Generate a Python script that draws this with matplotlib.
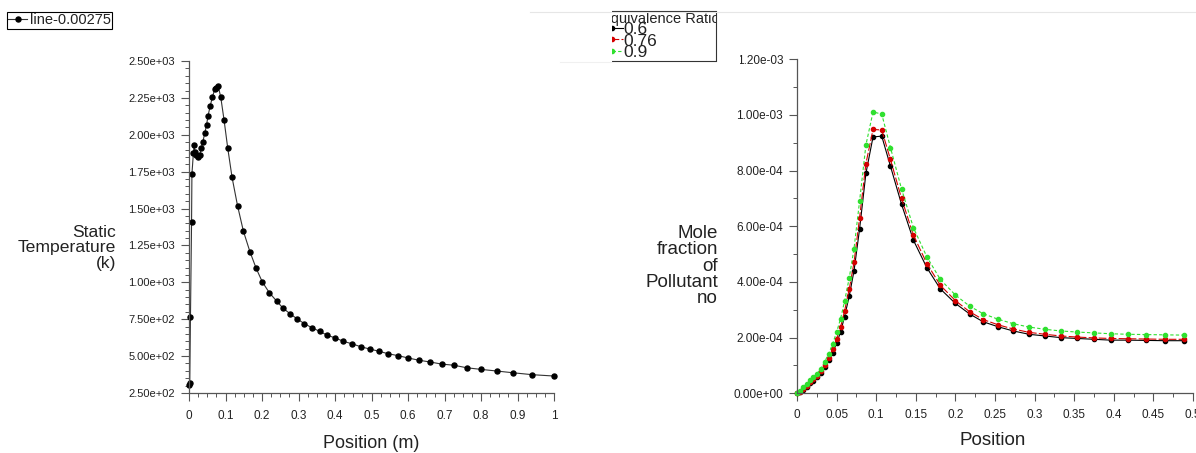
import numpy as np
import matplotlib
matplotlib.use('Agg')
import matplotlib.pyplot as plt
import matplotlib.ticker as mticker
from matplotlib.patches import Rectangle
from matplotlib.lines import Line2D

plt.rcParams['font.family'] = ['Liberation Sans', 'DejaVu Sans']

### data: static temperature along line-0.00275
temp_pos = [0.0, 0.002, 0.004, 0.007, 0.008, 0.012, 0.014, 0.016, 0.020, 0.025,
            0.029, 0.034, 0.038, 0.043, 0.048, 0.052, 0.058, 0.064, 0.0705, 0.075,
            0.080, 0.087, 0.096, 0.106, 0.118, 0.133, 0.149, 0.167, 0.184, 0.201,
            0.220, 0.240, 0.258, 0.278, 0.297, 0.316, 0.337, 0.358, 0.379, 0.401,
            0.423, 0.446, 0.470, 0.495, 0.520, 0.546, 0.573, 0.601, 0.630, 0.661,
            0.692, 0.726, 0.761, 0.800, 0.843, 0.888, 0.941, 1.0]
temp_val = [304, 320, 763, 1406, 1734, 1874, 1928, 1880, 1862, 1851,
            1862, 1912, 1953, 2009, 2065, 2127, 2194, 2255, 2308, 2319,
            2330, 2255, 2101, 1912, 1711, 1519, 1347, 1207, 1095, 1002,
            930, 873, 824, 785, 751, 720, 692, 668, 641, 623,
            600, 584, 564, 548, 533, 516, 503, 487, 472, 460,
            446, 438, 421, 410, 399, 387, 374, 365]

### data: NO mole fraction for three equivalence ratios
no_pos = [0.0, 0.004, 0.008, 0.012, 0.016, 0.020, 0.025, 0.030, 0.035, 0.040,
          0.045, 0.050, 0.055, 0.060, 0.066, 0.072, 0.079, 0.087, 0.096, 0.107,
          0.118, 0.132, 0.147, 0.164, 0.181, 0.200, 0.218, 0.235, 0.254, 0.273,
          0.293, 0.313, 0.333, 0.354, 0.375, 0.396, 0.418, 0.441, 0.465, 0.489]
no_06 = [0.0, 0.5e-5, 1.2e-5, 2.4e-5, 3.6e-5, 4.5e-5, 5.7e-5, 7.4e-5, 9.5e-5, 1.18e-4,
         1.45e-4, 1.80e-4, 2.20e-4, 2.75e-4, 3.50e-4, 4.40e-4, 5.90e-4, 7.90e-4, 9.21e-4, 9.24e-4,
         8.16e-4, 6.79e-4, 5.50e-4, 4.51e-4, 3.75e-4, 3.23e-4, 2.85e-4, 2.57e-4, 2.39e-4, 2.24e-4,
         2.12e-4, 2.06e-4, 2.00e-4, 1.97e-4, 1.94e-4, 1.91e-4, 1.91e-4, 1.90e-4, 1.89e-4, 1.89e-4]
no_076 = [0.0, 0.6e-5, 1.5e-5, 2.8e-5, 4.0e-5, 5.0e-5, 6.2e-5, 8.0e-5, 1.02e-4, 1.28e-4,
          1.58e-4, 1.96e-4, 2.38e-4, 2.95e-4, 3.75e-4, 4.70e-4, 6.30e-4, 8.25e-4, 9.48e-4, 9.46e-4,
          8.40e-4, 7.00e-4, 5.68e-4, 4.66e-4, 3.88e-4, 3.33e-4, 2.93e-4, 2.65e-4, 2.46e-4, 2.31e-4,
          2.19e-4, 2.12e-4, 2.06e-4, 2.02e-4, 1.99e-4, 1.97e-4, 1.96e-4, 1.95e-4, 1.94e-4, 1.94e-4]
no_09 = [0.0, 1.0e-5, 2.2e-5, 3.5e-5, 4.8e-5, 5.8e-5, 7.0e-5, 8.8e-5, 1.14e-4, 1.42e-4,
         1.78e-4, 2.20e-4, 2.68e-4, 3.30e-4, 4.15e-4, 5.20e-4, 6.90e-4, 8.92e-4, 1.011e-3, 1.003e-3,
         8.83e-4, 7.34e-4, 5.95e-4, 4.90e-4, 4.09e-4, 3.53e-4, 3.13e-4, 2.86e-4, 2.66e-4, 2.50e-4,
         2.38e-4, 2.30e-4, 2.24e-4, 2.20e-4, 2.17e-4, 2.14e-4, 2.12e-4, 2.11e-4, 2.10e-4, 2.09e-4]
ratio_labels = ['0.6', '0.76', '0.9']


### figure and axes in pixel layout
W, H = 1196, 453
fig = plt.figure(figsize=(W/100, H/100), dpi=100)
ax1 = fig.add_axes([189/W, 1-393/H, (554-189)/W, (393-61)/H])
ax2 = fig.add_axes([797/W, 1-393.3/H, (1193-797)/W, (393.3-59.3)/H])

txt = '#222222'
spine_col = '#555555'

for ax in (ax1, ax2):
    for s in ('top', 'right'):
        ax.spines[s].set_visible(False)
    for s in ('left', 'bottom'):
        ax.spines[s].set_color(spine_col)
        ax.spines[s].set_linewidth(0.9)
    ax.tick_params(which='major', direction='out', length=6, width=0.8, color=spine_col,
                   labelcolor=txt)
    ax.tick_params(which='minor', direction='out', length=3, width=0.7, color=spine_col)


### left: static temperature
ax1.plot(temp_pos, temp_val, color='#333333', lw=0.8, marker='o', ms=3.6,
         mfc='black', mec='black', label='line-0.00275', clip_on=False)
ax1.set_xlim(0, 1)
ax1.set_ylim(250, 2500)
ax1.xaxis.set_major_locator(mticker.MultipleLocator(0.1))
ax1.xaxis.set_minor_locator(mticker.AutoMinorLocator(4))
ax1.yaxis.set_major_locator(mticker.MultipleLocator(250))
ax1.yaxis.set_minor_locator(mticker.AutoMinorLocator(5))
ax1.xaxis.set_major_formatter(mticker.FormatStrFormatter('%g'))
ax1.yaxis.set_major_formatter(mticker.FormatStrFormatter('%.2e'))
ax1.tick_params(axis='x', labelsize=8.5, pad=6)
ax1.tick_params(axis='y', labelsize=8, pad=4)
ax1.set_xlabel('Position (m)', fontsize=13, color=txt, va='center')
ax1.xaxis.set_label_coords(0.498, -0.152)
ax1.set_ylabel('Static\nTemperature\n(k)', fontsize=12.6, color=txt, rotation=0,
               ha='right', va='center', multialignment='right', linespacing=1.05)
ax1.yaxis.set_label_coords(-0.2, 0.437)

leg1 = fig.legend(handles=ax1.get_lines(), loc='upper left', bbox_to_anchor=(7/W, 1-12/H),
                  fontsize=10.5, handlelength=1.3, handletextpad=0.15, borderpad=0.1,
                  borderaxespad=0, fancybox=False, framealpha=1, edgecolor='black',
                  labelcolor=txt)
leg1.get_frame().set_linewidth(0.8)


### right: NO mole fraction
l06, = ax2.plot(no_pos, no_06, color='black', lw=0.8, marker='o', ms=3, ls='-', clip_on=False)
l076, = ax2.plot(no_pos, no_076, color='#d40000', lw=0.8, marker='o', ms=3, ls=(0, (7, 2)), clip_on=False)
l09, = ax2.plot(no_pos, no_09, color='#2fe02f', lw=0.8, marker='o', ms=3, ls=(0, (3, 2)), clip_on=False)
ax2.set_xlim(0, 0.5)
ax2.set_ylim(0, 1.2e-3)
ax2.xaxis.set_major_locator(mticker.MultipleLocator(0.05))
ax2.xaxis.set_minor_locator(mticker.AutoMinorLocator(2))
ax2.yaxis.set_major_locator(mticker.MultipleLocator(2e-4))
ax2.yaxis.set_minor_locator(mticker.AutoMinorLocator(2))
ax2.xaxis.set_major_formatter(mticker.FormatStrFormatter('%g'))
ax2.yaxis.set_major_formatter(mticker.FormatStrFormatter('%.2e'))
ax2.tick_params(axis='x', labelsize=8.5, pad=5)
ax2.tick_params(axis='y', labelsize=8.5, pad=4)
ax2.set_xlabel('Position', fontsize=13.5, color=txt, va='center')
ax2.xaxis.set_label_coords(0.494, -0.14)
ax2.set_ylabel('Mole\nfraction\nof\nPollutant\nno', fontsize=13.5, color=txt, rotation=0,
               ha='right', va='center', multialignment='right', linespacing=0.95)
ax2.yaxis.set_label_coords(-0.2, 0.381)

### legend is placed a bit wider than the visible box, then trimmed on both sides
leg2 = fig.legend([l06, l076, l09], ratio_labels, title='Equivalence Ratio',
                  loc='upper right', bbox_to_anchor=(720/W, 1-11/H),
                  fontsize=12.5, title_fontsize=10.5, handlelength=1.32, handletextpad=0.0,
                  labelspacing=-0.22, borderpad=0.05, borderaxespad=0, alignment='left',
                  fancybox=False, framealpha=1, edgecolor='#333333', labelcolor=txt)
leg2.get_frame().set_linewidth(0.8)
leg2.get_title().set_color(txt)

fig.canvas.draw()
bb = leg2.get_window_extent()
y_lo, y_hi = bb.y0 / H, bb.y1 / H

fig.add_artist(Rectangle((380/W, 1-70/H), (612-380)/W, 70/H, transform=fig.transFigure,
                         facecolor='white', edgecolor='none', zorder=20))
fig.add_artist(Rectangle((716/W, 1-70/H), (740-716)/W, 70/H, transform=fig.transFigure,
                         facecolor='white', edgecolor='none', zorder=20))
fig.add_artist(Line2D([715.5/W, 715.5/W], [y_lo, y_hi], transform=fig.transFigure,
                      color='#333333', lw=0.8, zorder=21))
fig.add_artist(Line2D([530/W, 1], [1-12/H, 1-12/H], transform=fig.transFigure,
                      color='#e6e6e6', lw=0.8, zorder=21))
fig.add_artist(Line2D([560/W, 612/W], [1-62/H, 1-62/H], transform=fig.transFigure,
                      color='#f0f0f0', lw=0.8, zorder=21))

fig.savefig('out.png', dpi=100, facecolor='white')
plt.close(fig)
